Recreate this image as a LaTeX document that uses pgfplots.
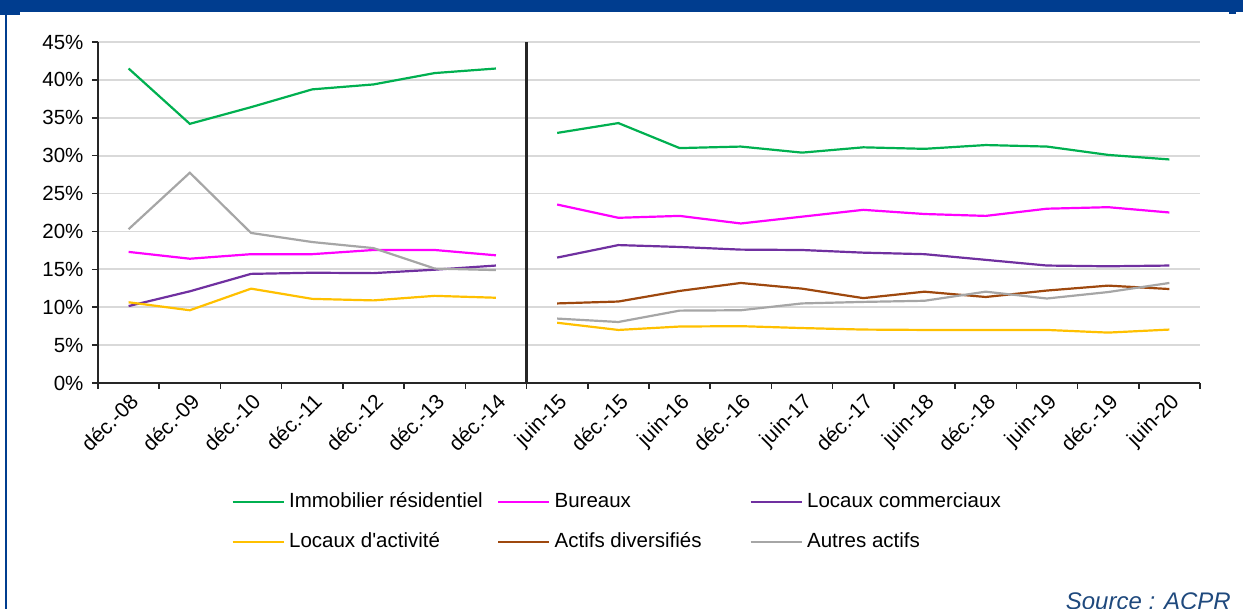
\documentclass[border=0pt]{standalone}
\usepackage{fontspec}
\setmainfont{Liberation Sans}[Ligatures=TeXOff]
\usepackage{pgfplots}
\pgfplotsset{compat=1.18}

\definecolor{frameblue}{RGB}{0,61,143}
\definecolor{srcblue}{RGB}{31,73,125}
\definecolor{cres}{RGB}{0,176,80}
\definecolor{cbur}{RGB}{255,0,255}
\definecolor{ccom}{RGB}{112,48,160}
\definecolor{cact}{RGB}{255,192,0}
\definecolor{cdiv}{RGB}{158,72,14}
\definecolor{caut}{RGB}{166,166,166}
\definecolor{gridgray}{RGB}{217,217,217}
\definecolor{axdark}{RGB}{38,38,38}

\begin{document}
\begin{tikzpicture}[x=1pt,y=1pt]
\useasboundingbox (0,0) rectangle (1243,609);
% frame
\fill[frameblue] (0,597) rectangle (1243,609);
\fill[frameblue] (0,594) rectangle (20,597);
\fill[frameblue] (1229,595) rectangle (1236,597);
\fill[frameblue] (4.5,0) rectangle (7,597);

\begin{axis}[
  at={(98pt,226pt)}, anchor=south west,
  scale only axis, width=1102pt, height=341pt,
  xmin=-0.5, xmax=17.5, ymin=0, ymax=45,
  axis x line*=bottom, axis y line*=left,
  axis line style={axdark, line width=1.6pt},
  ytick={0,5,...,45},
  yticklabels={0\%,5\%,10\%,15\%,20\%,25\%,30\%,35\%,40\%,45\%},
  xtick={0,...,17},
  xticklabels={d\'ec.-08,d\'ec.-09,d\'ec.-10,d\'ec.-11,d\'ec.-12,d\'ec.-13,d\'ec.-14,
    juin-15,d\'ec.-15,juin-16,d\'ec.-16,juin-17,d\'ec.-17,juin-18,d\'ec.-18,juin-19,d\'ec.-19,juin-20},
  minor xtick={-0.5,0.5,...,17.5},
  tick align=outside,
  major tick length=6pt, minor tick length=6pt,
  major x tick style={draw=none},
  minor x tick style={axdark, line width=1.6pt},
  y tick style={axdark, line width=1.6pt},
  ymajorgrids, grid style={gridgray, line width=1.8pt},
  tick label style={font=\fontsize{20.5}{24}\selectfont, text=black},
  y tick label style={xshift=-5pt},
  x tick label style={rotate=45, anchor=north east, inner sep=2pt,
    font=\fontsize{21}{24}\selectfont},
  unbounded coords=jump,
  clip=false,
  legend columns=3,
  legend cell align=left,
  legend style={draw=none, fill=none, inner sep=0pt,
    at={(0.1211,-0.313)}, anchor=north west,
    font=\fontsize{20.5}{24}\selectfont,
    nodes={text height=15pt, text depth=4pt, inner ysep=3pt, inner xsep=2.5pt},
    /tikz/row sep=15pt},
  legend image code/.code={\draw[#1, line width=2pt] (0pt,0pt) -- (51pt,0pt);},
  every axis plot/.append style={line width=2.2pt},
]
\addplot[cres] coordinates {
  (0,41.5) (1,34.2) (2,36.4) (3,38.75) (4,39.4) (5,40.9) (6,41.5) (6.5,nan)
  (7,33.0) (8,34.3) (9,31.0) (10,31.2) (11,30.4) (12,31.1) (13,30.9) (14,31.4) (15,31.2) (16,30.1) (17,29.5)};
\addlegendentry{\makebox[207.5pt][l]{\hspace{2pt}Immobilier résidentiel}}
\addplot[cbur] coordinates {
  (0,17.3) (1,16.4) (2,17.0) (3,17.0) (4,17.55) (5,17.55) (6,16.85) (6.5,nan)
  (7,23.55) (8,21.8) (9,22.05) (10,21.05) (11,21.95) (12,22.85) (13,22.3) (14,22.05) (15,23.0) (16,23.2) (17,22.5)};
\addlegendentry{\makebox[194.5pt][l]{\hspace{2pt}Bureaux}}
\addplot[ccom] coordinates {
  (0,10.15) (1,12.1) (2,14.4) (3,14.55) (4,14.5) (5,14.95) (6,15.5) (6.5,nan)
  (7,16.55) (8,18.2) (9,17.95) (10,17.6) (11,17.55) (12,17.2) (13,17.0) (14,16.25) (15,15.5) (16,15.4) (17,15.5)};
\addlegendentry{\hspace{2pt}Locaux commerciaux}
\addplot[cact] coordinates {
  (0,10.65) (1,9.6) (2,12.45) (3,11.1) (4,10.9) (5,11.5) (6,11.25) (6.5,nan)
  (7,7.95) (8,7.0) (9,7.45) (10,7.5) (11,7.25) (12,7.05) (13,7.0) (14,7.0) (15,7.0) (16,6.65) (17,7.05)};
\addlegendentry{\hspace{2pt}Locaux d'activité}
\addplot[cdiv] coordinates {
  (7,10.5) (8,10.75) (9,12.15) (10,13.2) (11,12.45) (12,11.2) (13,12.05) (14,11.35) (15,12.2) (16,12.85) (17,12.4)};
\addlegendentry{\hspace{2pt}Actifs diversifiés}
\addplot[caut] coordinates {
  (0,20.3) (1,27.75) (2,19.8) (3,18.6) (4,17.8) (5,15.1) (6,14.9) (6.5,nan)
  (7,8.5) (8,8.05) (9,9.55) (10,9.6) (11,10.5) (12,10.7) (13,10.85) (14,12.05) (15,11.15) (16,12.0) (17,13.2)};
\addlegendentry{\hspace{2pt}Autres actifs}
\draw[axdark, line width=2.2pt] (axis cs:6.5,0) -- (axis cs:6.5,45);
\end{axis}

\node[anchor=base east, inner sep=0pt, text=srcblue,
  font=\fontsize{24}{28}\selectfont\itshape] at (1231,-1) {Source : ACPR};
\end{tikzpicture}
\end{document}
